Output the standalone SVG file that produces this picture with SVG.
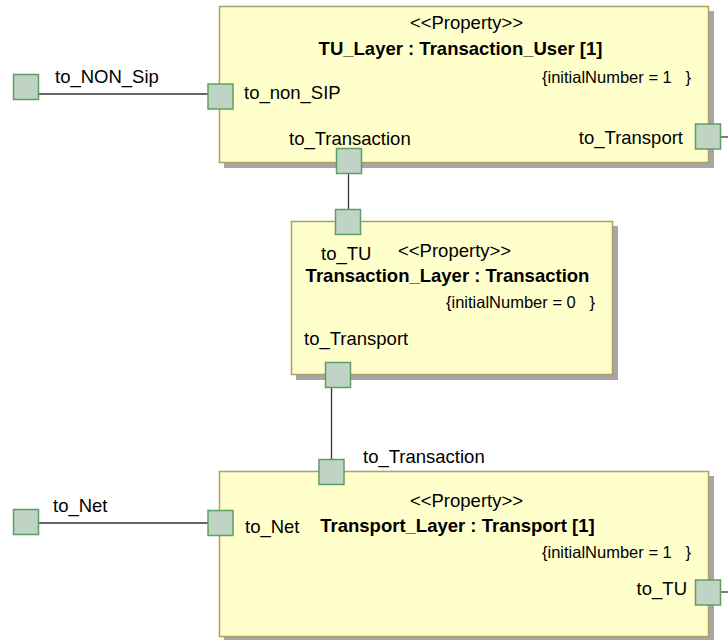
<svg xmlns="http://www.w3.org/2000/svg" width="728" height="640" viewBox="0 0 728 640">
  <style>
    .part { fill: #FFFFCC; stroke: #ACA066; stroke-width: 1.5; }
    .shadow { fill: #A6A6A6; }
    .port { fill: #C0D4C6; stroke: #5E9E66; stroke-width: 1.5; }
    .wire { stroke: #333333; stroke-width: 1.3; fill: none; }
    text { font-family: "Liberation Sans", Arial, sans-serif; fill: #000; font-size: 18.5px; }
    .title { font-weight: bold; }
    .constraint { font-size: 16.5px; white-space: pre; }
    .mid { text-anchor: middle; }
    .end { text-anchor: end; }
  </style>

  <rect width="728" height="640" fill="#FFFFFF"/>

  <!-- connectors -->
  <g id="connectors">
    <line class="wire" x1="39" y1="94" x2="208" y2="94"/>
    <line class="wire" x1="721" y1="137" x2="728" y2="137"/>
    <line class="wire" x1="348.5" y1="174" x2="348.5" y2="209"/>
    <line class="wire" x1="331.5" y1="388" x2="331.5" y2="459"/>
    <line class="wire" x1="39" y1="523" x2="208" y2="523"/>
    <line class="wire" x1="721" y1="592" x2="728" y2="592"/>
  </g>

  <!-- TU layer part -->
  <g id="tu-layer">
    <rect class="shadow" x="224" y="11" width="490" height="157"/>
    <rect class="part" x="219.5" y="6.5" width="489" height="156"/>
    <text class="mid" x="466.5" y="29">&lt;&lt;Property&gt;&gt;</text>
    <text class="title mid" x="460.5" y="55">TU_Layer : Transaction_User [1]</text>
    <text class="constraint" x="542" y="83" xml:space="preserve">{initialNumber = 1   }</text>
    <text x="244" y="99">to_non_SIP</text>
    <text x="289" y="145">to_Transaction</text>
    <text class="end" x="683" y="144">to_Transport</text>
  </g>

  <!-- Transaction layer part -->
  <g id="transaction-layer">
    <rect class="shadow" x="296" y="226" width="322" height="154"/>
    <rect class="part" x="291.5" y="221.5" width="321" height="153"/>
    <text x="321" y="260">to_TU</text>
    <text x="398" y="257">&lt;&lt;Property&gt;&gt;</text>
    <text class="title mid" x="447.5" y="282">Transaction_Layer : Transaction</text>
    <text class="constraint" x="446" y="308" xml:space="preserve">{initialNumber = 0   }</text>
    <text x="304" y="345">to_Transport</text>
  </g>

  <!-- Transport layer part -->
  <g id="transport-layer">
    <rect class="shadow" x="224" y="476" width="490" height="164"/>
    <rect class="part" x="219.5" y="471.5" width="489" height="165"/>
    <text x="363" y="463">to_Transaction</text>
    <text class="mid" x="466.5" y="507">&lt;&lt;Property&gt;&gt;</text>
    <text class="title mid" x="457.5" y="532">Transport_Layer : Transport [1]</text>
    <text class="constraint" x="542" y="558" xml:space="preserve">{initialNumber = 1   }</text>
    <text x="245" y="533">to_Net</text>
    <text class="end" x="687" y="595">to_TU</text>
  </g>

  <!-- ports -->
  <g id="port-to-NON-Sip">
    <rect class="port" x="13.5" y="74.5" width="25" height="25"/>
    <text x="55" y="83">to_NON_Sip</text>
  </g>
  <g id="port-tu-to-non-SIP">
    <rect class="port" x="208" y="84" width="25" height="25"/>
  </g>
  <g id="port-tu-to-Transport">
    <rect class="port" x="695.5" y="124" width="25" height="25"/>
  </g>
  <g id="port-tu-to-Transaction">
    <rect class="port" x="336.5" y="148.5" width="25" height="25"/>
  </g>
  <g id="port-transaction-to-TU">
    <rect class="port" x="335.5" y="209.5" width="25" height="25"/>
  </g>
  <g id="port-transaction-to-Transport">
    <rect class="port" x="325.5" y="362.5" width="25" height="25"/>
  </g>
  <g id="port-transport-to-Transaction">
    <rect class="port" x="319" y="459.5" width="25" height="25"/>
  </g>
  <g id="port-to-Net">
    <rect class="port" x="13.5" y="509.5" width="25" height="25"/>
    <text x="53" y="512">to_Net</text>
  </g>
  <g id="port-transport-to-Net">
    <rect class="port" x="208" y="510.5" width="25" height="25"/>
  </g>
  <g id="port-transport-to-TU">
    <rect class="port" x="695.5" y="580" width="25" height="25"/>
  </g>
</svg>
